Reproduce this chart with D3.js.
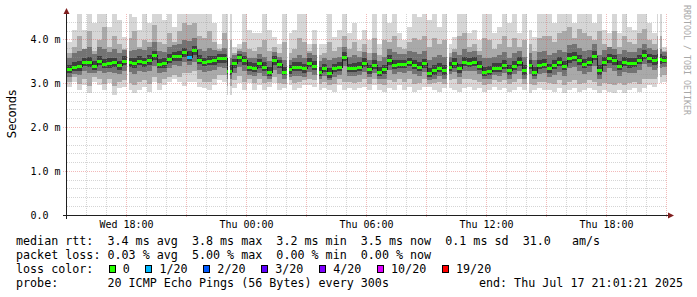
<!DOCTYPE html>
<html>
<head>
<meta charset="utf-8">
<title>smokeping - last 30 hours</title>
<style>
  body { margin: 0; background: #fff; }
  svg { display: block; }
  text { font-family: "DejaVu Sans Mono", monospace; white-space: pre; }
  .legend text { font-size: 11.7px; fill: #000; }
  .tick text { font-size: 10px; fill: #000; }
</style>
</head>
<body>
<script src="https://d3js.org/d3.v7.min.js"></script>
<script>
// graph window, one column every 15 minutes
var start = new Date(2025, 6, 16, 15, 1, 21),
    end = new Date(2025, 6, 17, 21, 1, 21);
var stepMin = 15;

var median = [3.34,3.39,3.40,3.50,3.50,3.41,3.53,3.46,3.47,3.49,3.42,3.53,3.49,3.47,3.53,3.49,3.55,3.66,3.46,3.47,3.57,3.63,3.63,3.72,
  3.62,3.77,3.55,3.50,3.53,3.55,3.58,3.58,3.29,3.47,3.60,3.54,3.39,3.37,3.47,3.39,3.28,3.54,3.45,3.28,3.33,3.39,3.39,3.35,
  3.48,3.41,3.28,3.36,3.24,3.36,3.39,3.62,3.36,3.37,3.39,3.48,3.33,3.43,3.28,3.33,3.54,3.43,3.45,3.45,3.50,3.43,3.39,3.47,
  3.25,3.31,3.37,3.31,3.39,3.47,3.35,3.50,3.48,3.50,3.41,3.28,3.30,3.37,3.37,3.43,3.31,3.41,3.50,3.31,3.43,3.28,3.43,3.45,
  3.35,3.43,3.50,3.41,3.58,3.62,3.54,3.45,3.50,3.64,3.31,3.50,3.58,3.54,3.41,3.50,3.47,3.48,3.55,3.66,3.58,3.54,3.56,3.55];

var pingMax = [3.96,4.23,4.59,4.23,4.59,4.38,4.59,4.59,4.30,4.59,4.46,4.08,4.59,4.53,4.23,4.59,4.38,4.59,4.59,4.46,4.59,4.30,4.59,4.59,
  4.59,4.59,4.59,4.59,4.59,4.38,3.92,4.59,4.59,3.85,3.92,4.59,4.23,4.15,4.15,4.59,4.23,4.08,3.92,4.59,4.15,4.23,4.59,4.59,
  3.92,4.23,3.92,3.92,4.59,4.08,4.23,4.59,4.15,4.38,4.00,4.23,4.00,4.59,3.92,4.59,4.38,4.59,4.15,4.00,4.30,4.59,4.53,4.59,
  4.46,4.59,4.30,4.59,3.92,4.08,4.59,4.59,4.15,4.23,4.00,4.59,4.59,4.15,4.30,4.59,4.38,4.59,4.15,4.59,4.23,4.08,4.59,4.59,
  4.59,4.38,4.59,4.59,4.59,4.38,4.59,4.59,4.59,4.38,4.59,4.23,4.15,4.59,4.15,4.59,4.30,4.23,4.59,4.59,4.38,4.15,4.59,3.85];

var pingMin = [2.93,3.05,2.86,2.97,2.78,3.05,2.97,2.86,3.01,2.74,2.90,2.93,2.86,2.78,2.86,2.93,2.82,3.05,2.86,2.97,3.05,3.12,3.05,2.95,
  3.05,3.05,2.93,2.90,2.86,2.97,3.09,3.05,2.74,2.90,3.01,2.86,3.01,2.86,2.97,2.86,2.93,3.01,2.86,2.90,2.97,2.86,2.90,2.97,
  2.97,2.93,2.86,2.90,2.86,2.82,2.97,2.86,2.90,2.86,2.90,2.93,2.86,2.97,2.86,2.82,2.90,2.86,2.97,2.86,2.93,2.82,2.86,2.93,
  2.93,2.86,2.82,2.90,2.90,2.86,2.82,2.90,2.93,2.86,2.90,2.82,2.86,2.93,2.86,2.90,2.82,2.86,2.93,2.86,2.78,2.86,2.90,2.86,
  2.86,2.82,2.90,2.78,2.86,2.90,2.82,2.86,2.90,2.86,2.78,2.86,2.82,2.78,2.86,2.78,2.86,2.90,2.82,2.90,2.97,2.93,3.01,3.05];

var p90 = [3.70,3.85,4.10,3.80,4.20,3.75,4.00,4.30,3.85,4.10,3.90,3.80,4.05,4.20,3.85,4.00,3.95,4.35,3.95,3.90,4.15,3.95,4.20,4.40,
  4.35,4.40,4.10,4.05,4.20,3.95,3.80,4.15,4.00,3.70,3.80,3.95,3.80,3.75,3.85,4.00,3.75,3.85,3.70,3.95,3.70,3.80,4.05,3.95,
  3.75,3.90,3.65,3.70,3.95,3.75,3.85,4.10,3.80,3.95,3.75,3.90,3.70,4.05,3.65,4.00,3.95,4.10,3.85,3.80,3.95,4.05,4.00,4.10,
  3.85,4.05,3.90,4.00,3.70,3.80,4.10,4.15,3.85,3.90,3.75,4.05,4.00,3.80,3.90,4.10,3.85,4.05,3.85,4.00,3.90,3.75,4.05,4.10,
  4.10,3.95,4.15,4.20,4.30,4.05,4.25,4.15,4.10,4.00,4.20,3.90,3.85,4.20,3.85,4.10,3.95,3.90,4.15,4.25,4.00,3.90,4.10,3.75];

var p10 = [3.05,3.15,3.00,3.10,2.95,3.15,3.10,3.00,3.12,2.95,3.05,3.08,3.02,2.98,3.05,3.08,3.00,3.15,3.02,3.10,3.15,3.20,3.15,3.25,
  3.25,3.30,3.10,3.05,3.05,3.12,3.20,3.20,2.95,3.08,3.18,3.05,3.12,3.02,3.10,3.02,3.05,3.15,3.02,3.00,3.08,3.02,3.05,3.08,
  3.12,3.08,3.00,3.05,2.98,3.00,3.10,3.05,3.05,3.02,3.05,3.10,3.00,3.10,3.00,2.98,3.08,3.05,3.12,3.05,3.10,3.00,3.02,3.10,
  3.00,3.02,3.05,3.00,3.08,3.10,3.00,3.10,3.12,3.08,3.05,2.98,3.00,3.08,3.05,3.08,3.00,3.05,3.10,3.00,3.00,2.98,3.05,3.05,
  3.02,3.00,3.08,2.98,3.05,3.08,3.00,3.02,3.08,3.05,2.95,3.02,3.00,2.98,3.02,2.98,3.02,3.05,3.00,3.10,3.12,3.10,3.15,3.20];

var p75 = [3.58,3.70,3.75,3.80,3.85,3.68,3.85,3.80,3.72,3.80,3.70,3.78,3.75,3.78,3.80,3.78,3.85,3.95,3.75,3.72,3.85,3.88,3.92,4.00,
  3.98,4.05,3.80,3.75,3.82,3.78,3.75,3.82,3.60,3.65,3.75,3.72,3.60,3.58,3.68,3.62,3.52,3.72,3.62,3.55,3.55,3.60,3.65,3.58,
  3.70,3.65,3.52,3.60,3.55,3.60,3.62,3.85,3.62,3.65,3.62,3.72,3.55,3.70,3.52,3.62,3.80,3.72,3.68,3.68,3.75,3.72,3.68,3.75,
  3.55,3.62,3.65,3.62,3.62,3.72,3.65,3.80,3.72,3.75,3.65,3.58,3.60,3.62,3.65,3.72,3.58,3.70,3.75,3.62,3.70,3.55,3.72,3.75,
  3.65,3.70,3.78,3.72,3.88,3.90,3.82,3.75,3.78,3.92,3.65,3.78,3.85,3.80,3.68,3.78,3.72,3.72,3.82,3.92,3.82,3.78,3.80,3.72];

var p25 = [3.15,3.22,3.20,3.30,3.25,3.25,3.30,3.25,3.28,3.25,3.22,3.30,3.27,3.22,3.30,3.28,3.30,3.40,3.25,3.28,3.36,3.42,3.40,3.50,
  3.42,3.50,3.32,3.28,3.30,3.32,3.38,3.35,3.10,3.25,3.38,3.30,3.20,3.18,3.25,3.18,3.12,3.32,3.22,3.10,3.15,3.18,3.18,3.15,
  3.28,3.20,3.10,3.18,3.08,3.15,3.20,3.40,3.18,3.18,3.20,3.28,3.15,3.25,3.10,3.12,3.32,3.22,3.28,3.25,3.30,3.22,3.18,3.28,
  3.08,3.12,3.18,3.12,3.22,3.28,3.15,3.30,3.30,3.30,3.22,3.10,3.12,3.20,3.18,3.25,3.12,3.22,3.30,3.12,3.22,3.10,3.22,3.25,
  3.15,3.20,3.28,3.18,3.35,3.38,3.30,3.22,3.28,3.40,3.10,3.28,3.35,3.30,3.18,3.28,3.25,3.25,3.32,3.45,3.38,3.32,3.35,3.38];

var p60 = [3.44,3.50,3.52,3.60,3.62,3.52,3.64,3.57,3.58,3.60,3.53,3.63,3.60,3.58,3.64,3.60,3.66,3.76,3.57,3.58,3.68,3.73,3.74,3.82,
  3.74,3.86,3.65,3.60,3.63,3.64,3.67,3.68,3.42,3.56,3.69,3.63,3.49,3.47,3.56,3.49,3.38,3.63,3.55,3.39,3.43,3.49,3.50,3.45,
  3.58,3.51,3.38,3.46,3.35,3.46,3.49,3.72,3.46,3.48,3.49,3.58,3.43,3.54,3.38,3.44,3.65,3.54,3.55,3.55,3.60,3.54,3.50,3.57,
  3.36,3.42,3.48,3.42,3.49,3.58,3.46,3.62,3.58,3.61,3.52,3.39,3.41,3.47,3.48,3.54,3.42,3.52,3.61,3.42,3.54,3.38,3.54,3.56,
  3.46,3.54,3.61,3.52,3.70,3.73,3.65,3.56,3.61,3.76,3.42,3.61,3.69,3.65,3.52,3.61,3.58,3.59,3.66,3.77,3.69,3.65,3.67,3.64];

var p40 = [3.25,3.30,3.30,3.40,3.38,3.32,3.43,3.36,3.37,3.38,3.32,3.43,3.39,3.36,3.42,3.39,3.44,3.55,3.36,3.37,3.47,3.53,3.52,3.62,
  3.52,3.66,3.45,3.40,3.43,3.44,3.48,3.48,3.20,3.37,3.50,3.44,3.29,3.27,3.37,3.29,3.18,3.44,3.35,3.19,3.23,3.29,3.29,3.25,
  3.38,3.31,3.18,3.26,3.14,3.26,3.29,3.52,3.26,3.27,3.29,3.38,3.23,3.33,3.18,3.23,3.44,3.33,3.35,3.35,3.40,3.33,3.29,3.37,
  3.16,3.21,3.27,3.21,3.29,3.37,3.25,3.40,3.38,3.40,3.31,3.18,3.20,3.27,3.27,3.33,3.21,3.31,3.40,3.21,3.33,3.18,3.33,3.35,
  3.25,3.33,3.40,3.31,3.48,3.52,3.44,3.35,3.40,3.54,3.21,3.40,3.48,3.44,3.31,3.40,3.37,3.38,3.45,3.56,3.48,3.44,3.46,3.47];

// missing samples, hours after start
var gapHours = [3.0, 8.05, 11.0, 12.5, 19.0, 23.0, 29.55];

// columns with lost pings
var lossCols = [24],
    lossCounts = [1];

var lossLabels = ["0", "1/20", "2/20", "3/20", "4/20", "10/20", "19/20"],
    lossLevels = [0, 1, 2, 3, 4, 10, 19],
    lossColors = ["#26ff00", "#00b8ff", "#0059ff", "#5e00ff", "#7e00ff", "#dd00ff", "#ff0000"];

var yTicks = [0, 1, 2, 3, 4],
    yTickLabels = ["0.0\u00a0\u00a0", "1.0 m", "2.0 m", "3.0 m", "4.0 m"];

var statLines = [
  "median rtt:  3.4 ms avg  3.8 ms max  3.2 ms min  3.5 ms now  0.1 ms sd  31.0   am/s",
  "packet loss: 0.03 % avg  5.00 % max  0.00 % min  0.00 % now"
];
var probeText = "probe:       20 ICMP Echo Pings (56 Bytes) every 300s",
    endText = "end: Thu Jul 17 21:01:21 2025";

var width = 697, height = 297;
var plot = {left: 67, right: 667, top: 14, bottom: 215};

var x = d3.scaleTime().domain([start, end]).range([plot.left, plot.right]);
var y = d3.scaleLinear().domain([0, 4.6]).range([plot.bottom, 13.75]);

var svg = d3.select("body").append("svg")
    .attr("width", width)
    .attr("height", height);

svg.append("rect").attr("width", width).attr("height", height).attr("fill", "#fff");

var cols = median.map(function(m, i) {
  var t0 = d3.timeMinute.offset(start, i * stepMin);
  var li = lossCols.indexOf(i);
  return {
    t0: t0,
    t1: d3.timeMinute.offset(t0, stepMin),
    med: m,
    loss: li < 0 ? 0 : lossCounts[li],
    bands: [[pingMin[i], pingMax[i]], [p10[i], p90[i]], [p25[i], p75[i]], [p40[i], p60[i]]]
  };
});

var bandColors = ["#d6d6d6", "#a9a9a9", "#737373", "#3e3e3e"];

// smoke
var smoke = svg.append("g").attr("shape-rendering", "crispEdges");
bandColors.forEach(function(c, k) {
  smoke.selectAll("rect.b" + k)
      .data(cols)
    .enter().append("rect")
      .attr("class", "b" + k)
      .attr("x", function(d) { return x(d.t0); })
      .attr("width", function(d) { return x(d.t1) - x(d.t0); })
      .attr("y", function(d) { return y(Math.min(d.bands[k][1], 4.6)); })
      .attr("height", function(d) { return y(d.bands[k][0]) - y(Math.min(d.bands[k][1], 4.6)); })
      .attr("fill", c);
});

// median line
var stepPts = cols.map(function(d) { return [x(d.t0), Math.round(y(d.med)) + 0.5]; });
stepPts.push([x(end), Math.round(y(median[median.length - 1])) + 0.5]);
svg.append("path")
    .attr("d", d3.line().curve(d3.curveStepAfter)(stepPts))
    .attr("fill", "none")
    .attr("stroke", "#202020")
    .attr("stroke-width", 1)
    .attr("shape-rendering", "crispEdges");

function lossColor(n) {
  var c = lossColors[0];
  lossLevels.forEach(function(l, j) { if (n >= l) c = lossColors[j]; });
  return c;
}

svg.append("g").attr("shape-rendering", "crispEdges")
  .selectAll("rect")
    .data(cols)
  .enter().append("rect")
    .attr("x", function(d) { return x(d.t0); })
    .attr("width", function(d) { return x(d.t1) - x(d.t0); })
    .attr("y", function(d) { return Math.round(y(d.med)) - 1; })
    .attr("height", 3)
    .attr("fill", function(d) { return lossColor(d.loss); });

// missing samples
svg.append("g").selectAll("rect")
    .data(gapHours)
  .enter().append("rect")
    .attr("x", function(h) { return Math.round(x(d3.timeSecond.offset(start, h * 3600))); })
    .attr("width", 2)
    .attr("y", plot.top)
    .attr("height", plot.bottom - plot.top)
    .attr("fill", "#fff");

// grid, dotted on top of the smoke
var grid = svg.append("g").attr("shape-rendering", "crispEdges").attr("stroke-dasharray", "1,1");
var minorV = d3.range(1, 23).map(function(k) { return k * 0.2; }).filter(function(v) { return Math.abs(v - Math.round(v)) > 0.01; });
var minorCol = "rgba(150,150,150,0.4)",
    majorCol = "rgba(222,79,79,0.4)";

grid.selectAll("line.hmin")
    .data(minorV)
  .enter().append("line")
    .attr("x1", plot.left).attr("x2", plot.right)
    .attr("y1", function(v) { return Math.floor(y(v)) + 0.5; })
    .attr("y2", function(v) { return Math.floor(y(v)) + 0.5; })
    .attr("stroke", minorCol);

var hours = d3.timeHour.range(start, end);
grid.selectAll("line.vmin")
    .data(hours.filter(function(t) { return t.getHours() % 3 != 0; }))
  .enter().append("line")
    .attr("x1", function(t) { return Math.floor(x(t)) + 0.5; })
    .attr("x2", function(t) { return Math.floor(x(t)) + 0.5; })
    .attr("y1", plot.top).attr("y2", plot.bottom)
    .attr("stroke", minorCol);

grid.selectAll("line.hmaj")
    .data(yTicks.slice(1))
  .enter().append("line")
    .attr("x1", plot.left - 4).attr("x2", plot.right)
    .attr("y1", function(v) { return Math.floor(y(v)) + 0.5; })
    .attr("y2", function(v) { return Math.floor(y(v)) + 0.5; })
    .attr("stroke", majorCol);

grid.selectAll("line.vmaj")
    .data(hours.filter(function(t) { return t.getHours() % 3 == 0; }))
  .enter().append("line")
    .attr("x1", function(t) { return Math.floor(x(t)) + 0.5; })
    .attr("x2", function(t) { return Math.floor(x(t)) + 0.5; })
    .attr("y1", plot.top).attr("y2", plot.bottom + 3)
    .attr("stroke", majorCol);

// axes
var axes = svg.append("g").attr("shape-rendering", "crispEdges");
axes.append("line")
    .attr("x1", plot.left - 4).attr("x2", plot.right + 2)
    .attr("y1", plot.bottom + 0.5).attr("y2", plot.bottom + 0.5)
    .attr("stroke", "#1f1f1f");
axes.append("line")
    .attr("x1", plot.left - 0.5).attr("x2", plot.left - 0.5)
    .attr("y1", plot.top).attr("y2", plot.bottom + 4)
    .attr("stroke", "#1f1f1f");

svg.append("path")
    .attr("d", "M" + (plot.left - 3.5) + "," + plot.top + "L" + (plot.left - 0.5) + "," + (plot.top - 6) + "L" + (plot.left + 2.5) + "," + plot.top + "Z")
    .attr("fill", "#801f1f");
svg.append("path")
    .attr("d", "M" + (plot.right + 1) + "," + (plot.bottom - 2.5) + "L" + (plot.right + 7) + "," + (plot.bottom + 0.5) + "L" + (plot.right + 1) + "," + (plot.bottom + 3.5) + "Z")
    .attr("fill", "#801f1f");

// tick labels
var ticks = svg.append("g").attr("class", "tick");
ticks.selectAll("text.y")
    .data(yTicks)
  .enter().append("text")
    .attr("x", 60.5)
    .attr("y", function(v) { return Math.floor(y(v)) + 4; })
    .attr("text-anchor", "end")
    .text(function(v, i) { return yTickLabels[i]; });

var fmt = d3.timeFormat("%a %H:%M");
ticks.selectAll("text.x")
    .data(hours.filter(function(t) { return t.getHours() % 6 == 0; }))
  .enter().append("text")
    .attr("x", function(t) { return x(t); })
    .attr("y", 228)
    .attr("text-anchor", "middle")
    .text(fmt);

svg.append("text")
    .attr("transform", "translate(16,114) rotate(-90)")
    .attr("text-anchor", "middle")
    .style("font-family", "'DejaVu Sans', sans-serif")
    .style("font-size", "11.5px")
    .text("Seconds");

svg.append("text")
    .attr("transform", "translate(684,5) rotate(90)")
    .style("font-size", "8.3px")
    .attr("fill", "#a8a8a8")
    .text("RRDTOOL / TOBI OETIKER");

// legend block
var legend = svg.append("g").attr("class", "legend");
legend.selectAll("text.stat")
    .data(statLines)
  .enter().append("text")
    .attr("x", 16)
    .attr("y", function(d, i) { return 245 + i * 14; })
    .text(function(d) { return d; });

legend.append("text").attr("x", 16).attr("y", 273).text("loss color:");
var cx = 108.7;
lossLabels.forEach(function(l, j) {
  legend.append("rect")
      .attr("x", Math.round(cx) + 0.5).attr("y", 265.5)
      .attr("width", 6).attr("height", 7)
      .attr("fill", lossColors[j])
      .attr("stroke", "#000")
      .attr("shape-rendering", "crispEdges");
  legend.append("text").attr("x", cx + 14).attr("y", 273).text(l);
  cx += 14 + l.length * 7.05 + 15.7;
});

legend.append("text").attr("x", 16).attr("y", 287).text(probeText);
legend.append("text").attr("x", 683).attr("y", 287).attr("text-anchor", "end").text(endText);
</script>
</body>
</html>
